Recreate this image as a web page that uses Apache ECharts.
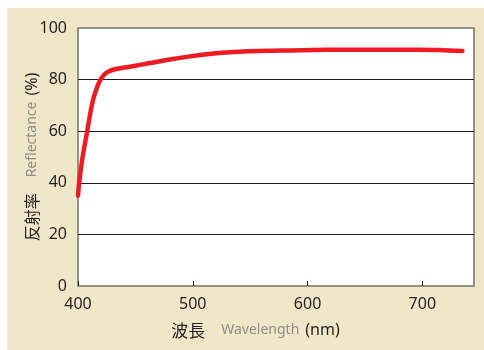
<!DOCTYPE html>
<html>
<head>
<meta charset="utf-8">
<script src="https://cdn.jsdelivr.net/npm/echarts@6/dist/echarts.min.js"></script>
<style>
html,body{margin:0;padding:0;background:#fff;}
#chart{width:484px;height:350px;}
</style>
</head>
<body>
<div id="chart"></div>
<script>
// Wavelength (nm)
const wavelengths = [400, 401, 404, 408, 412, 415, 419, 423, 427, 432, 438, 444, 455, 467, 480, 496, 510, 526, 540, 556, 570, 585, 605, 628, 650, 672, 695, 715, 735];
// Reflectance (%)
const reflectance = [35, 40, 50, 60, 70, 75, 79.5, 82, 83.2, 84, 84.5, 84.9, 85.8, 86.7, 87.8, 88.9, 89.7, 90.4, 90.8, 91.1, 91.2, 91.3, 91.5, 91.6, 91.6, 91.6, 91.6, 91.5, 91.1];
const xTicks = [400, 500, 600, 700];
const yTicks = [0, 20, 40, 60, 80, 100];

const chart = echarts.init(document.getElementById('chart'));
const dark = '#231f20';
chart.setOption({
  backgroundColor: '#ffffff',
  animation: false,
  graphic: [{
    type: 'rect', z: -10, silent: true,
    shape: { x: 7, y: 8, width: 477, height: 342 },
    style: { fill: '#f0e7c8' }
  }],
  grid: {
    left: 78, right: 10, top: 28, bottom: 64,
    show: true, backgroundColor: '#ffffff', borderColor: '#7b7466', borderWidth: 1.5
  },
  xAxis: {
    type: 'value', min: 400, max: 745, interval: 100,
    axisLine: { show: false },
    axisTick: { show: true, inside: true, length: 5, lineStyle: { color: dark, width: 1 } },
    splitLine: { show: false },
    axisLabel: {
      showMaxLabel: false, margin: 10,
      color: dark, fontFamily: 'Noto Sans', fontSize: 16,
      formatter: v => xTicks.includes(v) ? String(v) : ''
    },
    name: '{cn|波長}{en|Wavelength}{d|(nm)}',
    nameLocation: 'middle', nameGap: 36,
    nameTextStyle: {
      padding: [0, 41, 0, 0],
      rich: {
        cn: { fontFamily: 'Noto Sans CJK JP', fontSize: 17, color: dark, padding: [0, 16, 0, 0] },
        en: { fontFamily: 'Noto Sans', fontSize: 14, color: '#8c8c8c', padding: [0, 6, 0, 0] },
        d: { fontFamily: 'Noto Sans', fontSize: 16, color: dark }
      }
    }
  },
  yAxis: {
    type: 'value', min: 0, max: 100, interval: 20,
    axisLine: { show: false },
    axisTick: { show: false },
    splitLine: { show: true, showMinLine: false, showMaxLine: false, lineStyle: { color: '#1a1a1a', width: 1 } },
    axisLabel: {
      margin: 11, color: dark, fontFamily: 'Noto Sans', fontSize: 16,
      formatter: v => yTicks.includes(v) ? String(v) : ''
    },
    name: '{cn|反射率}{en|Reflectance}{d|(%)}',
    nameLocation: 'middle', nameGap: 38, nameRotate: 90,
    nameMoveOverlap: false,
    nameTextStyle: {
      rich: {
        cn: { fontFamily: 'Noto Sans CJK JP', fontSize: 16, color: dark, padding: [0, 16, 0, 0] },
        en: { fontFamily: 'Noto Sans', fontSize: 14, color: '#8c8c8c', padding: [0, 6, 0, 0] },
        d: { fontFamily: 'Noto Sans', fontSize: 16, color: dark }
      }
    }
  },
  series: [{
    type: 'line',
    data: wavelengths.map((w, i) => [w, reflectance[i]]),
    smooth: 0.3,
    showSymbol: false,
    lineStyle: { color: '#ed1c24', width: 4.5, cap: 'round' }
  }]
});
</script>
</body>
</html>
